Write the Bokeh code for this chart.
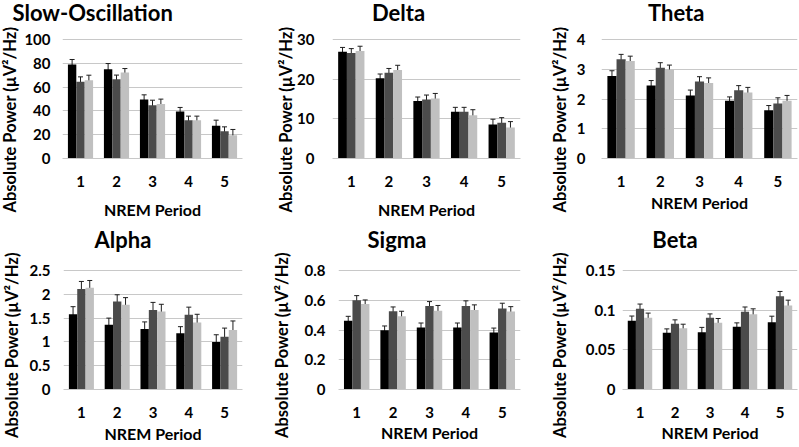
import math
from bokeh.plotting import figure
from bokeh.layouts import column, row
from bokeh.models import Range1d, FixedTicker, ColumnDataSource, Whisker, TeeHead, Label, Title
from bokeh.embed import file_html
from bokeh.resources import INLINE

FONT = "Lato"

# ---------------- data ----------------
periods = [1, 2, 3, 4, 5]
period_labels = ["1", "2", "3", "4", "5"]
series_names = ["Group A", "Group B", "Group C"]
series_colors = ["#000000", "#4b4b4b", "#c0c0c0"]
y_label = "Absolute Power (µV²/Hz)"
x_label = "NREM Period"

so_title = "Slow-Oscillation"
so_a = [79.0, 75.1, 49.6, 39.5, 27.5]
so_b = [64.4, 66.7, 44.8, 32.2, 23.0]
so_c = [65.8, 72.3, 45.7, 32.2, 19.6]
so_a_err = [4.2, 4.7, 3.9, 3.4, 4.7]
so_b_err = [4.2, 3.4, 4.2, 3.4, 3.6]
so_c_err = [4.2, 3.3, 4.2, 3.4, 4.8]
so_ticks = [0, 20, 40, 60, 80, 100]

delta_title = "Delta"
delta_a = [26.9, 20.2, 14.5, 11.8, 8.6]
delta_b = [26.6, 21.6, 14.9, 11.8, 9.0]
delta_c = [27.1, 22.3, 15.1, 10.9, 7.8]
delta_a_err = [1.1, 1.1, 1.0, 1.1, 1.3]
delta_b_err = [1.1, 1.1, 1.1, 1.1, 1.3]
delta_c_err = [1.2, 1.2, 1.3, 1.4, 1.5]
delta_ticks = [0, 10, 20, 30]

theta_title = "Theta"
theta_a = [2.77, 2.45, 2.12, 1.94, 1.62]
theta_b = [3.34, 3.05, 2.59, 2.29, 1.85]
theta_c = [3.28, 2.99, 2.54, 2.22, 1.94]
theta_a_err = [0.18, 0.17, 0.18, 0.13, 0.16]
theta_b_err = [0.16, 0.17, 0.16, 0.16, 0.19]
theta_c_err = [0.16, 0.15, 0.17, 0.17, 0.18]
theta_ticks = [0, 1, 2, 3, 4]

alpha_title = "Alpha"
alpha_a = [1.58, 1.36, 1.27, 1.18, 1.00]
alpha_b = [2.11, 1.85, 1.67, 1.57, 1.11]
alpha_c = [2.14, 1.78, 1.64, 1.41, 1.25]
alpha_a_err = [0.16, 0.14, 0.15, 0.14, 0.15]
alpha_b_err = [0.16, 0.14, 0.16, 0.16, 0.18]
alpha_c_err = [0.15, 0.15, 0.15, 0.17, 0.19]
alpha_ticks = [0, 0.5, 1, 1.5, 2, 2.5]

sigma_title = "Sigma"
sigma_a = [0.463, 0.398, 0.416, 0.416, 0.384]
sigma_b = [0.600, 0.526, 0.562, 0.562, 0.544]
sigma_c = [0.575, 0.492, 0.530, 0.535, 0.524]
sigma_a_err = [0.029, 0.029, 0.031, 0.031, 0.029]
sigma_b_err = [0.031, 0.029, 0.029, 0.034, 0.036]
sigma_c_err = [0.027, 0.034, 0.035, 0.034, 0.033]
sigma_ticks = [0, 0.2, 0.4, 0.6, 0.8]

beta_title = "Beta"
beta_a = [0.0866, 0.0714, 0.0723, 0.0790, 0.0849]
beta_b = [0.1017, 0.0828, 0.0903, 0.0980, 0.1176]
beta_c = [0.0903, 0.0773, 0.0840, 0.0950, 0.1059]
beta_a_err = [0.006, 0.005, 0.006, 0.005, 0.0075]
beta_b_err = [0.006, 0.005, 0.005, 0.006, 0.006]
beta_c_err = [0.006, 0.005, 0.0055, 0.0067, 0.0067]
beta_ticks = [0, 0.05, 0.1, 0.15]

# ---------------- drawing ----------------
BAR_W = 0.233
GRID = "#c8c8c8"
ERR = "#1e1e1e"
PLOT_H = 119  # pixel height of the 0..max band of each panel


def make_panel(title, means, errs, ticks, lay):
    (w, h, left, right, top, bottom, title_mode, title_x, title_y,
     ylab_off, ylab_sd, ytick_sd, xtick_sd, xlab_sd) = lay
    frame_h = h - top - bottom
    p = figure(width=w, height=h, x_range=Range1d(0.5, 5.5),
               y_range=Range1d(0, ticks[-1] * frame_h / PLOT_H),
               output_backend="svg", toolbar_location=None,
               min_border_left=left, min_border_right=right,
               min_border_top=top, min_border_bottom=bottom)
    p.outline_line_color = None
    p.background_fill_color = "white"
    p.border_fill_color = "white"

    if title_mode == "label":
        p.add_layout(Label(text=title, x=title_x, y=title_y,
                           x_units="screen", y_units="screen",
                           text_font=FONT, text_font_size="22px",
                           text_font_style="bold", text_color="#000000",
                           text_align="center", text_baseline="alphabetic"))
    else:
        p.title.text = title
        p.title.align = "left"
        p.title.vertical_align = "bottom"
        p.title.offset = title_x
        p.title.standoff = title_y
        p.title.text_font = FONT
        p.title.text_font_size = "22px"
        p.title.text_font_style = "bold"
        p.title.text_color = "#000000"

    ylab = Title(text=y_label, align="left", vertical_align="top",
                 offset=ylab_off, standoff=ylab_sd, text_font=FONT,
                 text_font_size="16.5px", text_font_style="bold",
                 text_color="#000000")
    p.add_layout(ylab, "left")

    for k in range(3):
        xs = [pp + (k - 1) * BAR_W for pp in periods]
        src = ColumnDataSource(dict(
            x=xs, top=means[k],
            upper=[m + e for m, e in zip(means[k], errs[k])],
            lower=[m - e for m, e in zip(means[k], errs[k])],
        ))
        p.vbar(x="x", top="top", bottom=0, width=BAR_W, source=src,
               fill_color=series_colors[k], line_color=None)
        p.add_layout(Whisker(source=src, base="x", upper="upper",
                             lower="lower", line_color=ERR, line_width=1,
                             upper_head=TeeHead(size=5, line_color=ERR, line_width=1),
                             lower_head=TeeHead(size=5, line_color=ERR, line_width=1)))

    xa = p.xaxis[0]
    xa.ticker = FixedTicker(ticks=periods)
    xa.major_label_overrides = {pp: lb for pp, lb in zip(periods, period_labels)}
    xa.major_tick_line_color = None
    xa.major_tick_out = 0
    xa.major_tick_in = 0
    xa.minor_tick_line_color = None
    xa.axis_line_color = GRID
    xa.major_label_standoff = xtick_sd
    xa.major_label_text_font = FONT
    xa.major_label_text_font_size = "15px"
    xa.major_label_text_font_style = "bold"
    xa.major_label_text_color = "#000000"
    xa.axis_label = x_label
    xa.axis_label_standoff = xlab_sd
    xa.axis_label_text_font = FONT
    xa.axis_label_text_font_size = "16px"
    xa.axis_label_text_font_style = "bold"
    xa.axis_label_text_color = "#000000"

    ya = p.yaxis[0]
    ya.ticker = FixedTicker(ticks=ticks)
    ya.major_label_overrides = {t: f"{t:g}" for t in ticks}
    ya.major_tick_line_color = None
    ya.major_tick_out = 0
    ya.major_tick_in = 0
    ya.minor_tick_line_color = None
    ya.axis_line_color = None
    ya.major_label_standoff = ytick_sd
    ya.major_label_text_font = FONT
    ya.major_label_text_font_size = "15px"
    ya.major_label_text_font_style = "bold"
    ya.major_label_text_color = "#000000"

    p.xgrid.grid_line_color = None
    p.ygrid.ticker = FixedTicker(ticks=ticks)
    p.ygrid.grid_line_color = GRID
    p.ygrid.grid_line_width = 1
    return p


# (w, h, left, right, top, bottom, title_mode, title_x, title_y, ylab_off,
#  ylab_sd, ytick_sd, xtick_sd, xlab_sd)
lay1 = (265, 225, 60, 23, 17, 67, "title", -50, -17.4, -54, -1, 12, 17, 10)
lay2 = (265, 225, 67, 10, 17, 67, "title", 39.5, -17.4, -54, -6.6, 18, 17, 10)
lay3 = (269, 225, 71, 2, 17, 67, "title", 46.5, -17.4, -54, 2.8, 16, 17, 3)
lay4 = (265, 222, 60, 23, 0, 58, "label", 59.5, 150, -48.5, 3.5, 13, 17, 3)
lay5 = (265, 222, 70, 10, 0, 58, "label", 58.5, 150, -48.5, 13.5, 13, 17, 2)
lay6 = (269, 222, 92, 2, 0, 58, "label", 52.5, 150, -48.5, 22, 7, 17, 2)

p1 = make_panel(so_title, [so_a, so_b, so_c], [so_a_err, so_b_err, so_c_err], so_ticks, lay1)
p2 = make_panel(delta_title, [delta_a, delta_b, delta_c], [delta_a_err, delta_b_err, delta_c_err], delta_ticks, lay2)
p3 = make_panel(theta_title, [theta_a, theta_b, theta_c], [theta_a_err, theta_b_err, theta_c_err], theta_ticks, lay3)
p4 = make_panel(alpha_title, [alpha_a, alpha_b, alpha_c], [alpha_a_err, alpha_b_err, alpha_c_err], alpha_ticks, lay4)
p5 = make_panel(sigma_title, [sigma_a, sigma_b, sigma_c], [sigma_a_err, sigma_b_err, sigma_c_err], sigma_ticks, lay5)
p6 = make_panel(beta_title, [beta_a, beta_b, beta_c], [beta_a_err, beta_b_err, beta_c_err], beta_ticks, lay6)

layout = column(row(p1, p2, p3), row(p4, p5, p6))

open("out.html", "w").write(file_html(layout, INLINE))
